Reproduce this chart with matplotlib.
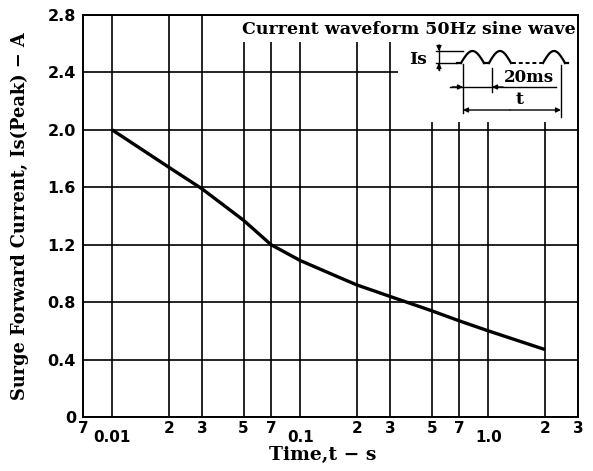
import numpy as np
import matplotlib
matplotlib.use("Agg")
import matplotlib.pyplot as plt
from matplotlib.patches import Rectangle
from matplotlib.lines import Line2D

# Surge forward current vs. time
time_s = [0.01, 0.02, 0.03, 0.05, 0.07, 0.1, 0.15, 0.2, 0.3, 0.5, 0.7, 1.0, 2.0]
current_a = [2.0, 1.74, 1.59, 1.37, 1.20, 1.09, 0.99, 0.92, 0.84, 0.74, 0.67, 0.60, 0.47]

major_x = [0.01, 0.1, 1.0]
major_x_labels = ["0.01", "0.1", "1.0"]
minor_x = [0.007, 0.02, 0.03, 0.05, 0.07, 0.2, 0.3, 0.5, 0.7, 2.0, 3.0]
minor_x_labels = ["7", "2", "3", "5", "7", "2", "3", "5", "7", "2", "3"]
y_ticks = [0, 0.4, 0.8, 1.2, 1.6, 2.0, 2.4, 2.8]
y_labels = ["0", "0.4", "0.8", "1.2", "1.6", "2.0", "2.4", "2.8"]

W, H = 593, 471
L, R, T, B = 83, 578, 15, 417

serif = ["DejaVu Serif"]
sans = ["DejaVu Sans"]

fig = plt.figure(figsize=(W / 100, H / 100), dpi=100)
ax = fig.add_axes([L / W, 1 - B / H, (R - L) / W, (B - T) / H])

ax.set_xscale("log")
ax.set_xlim(0.007, 3.0)
ax.set_ylim(0, 2.8)

ax.plot(time_s, current_a, color="black", lw=2.4, zorder=4, solid_capstyle="butt",
        solid_joinstyle="round")

ax.set_xticks(major_x)
ax.set_xticklabels(major_x_labels)
ax.set_xticks(minor_x, minor=True)
ax.set_xticklabels(minor_x_labels, minor=True)
ax.set_yticks(y_ticks)
ax.set_yticklabels(y_labels)

ax.tick_params(axis="x", which="major", length=0, pad=9, labelsize=11)
ax.tick_params(axis="x", which="minor", length=0, pad=3, labelsize=11)
ax.tick_params(axis="y", length=0, pad=5, labelsize=11.5)
for lab in ax.get_xticklabels(which="both") + ax.get_yticklabels():
    lab.set_fontfamily(sans)
    lab.set_fontweight("bold")

ax.grid(True, which="both", color="black", lw=1.2)
for sp in ax.spines.values():
    sp.set_linewidth(1.4)


def P(x, y):
    # pixel position -> axes fraction
    return ((x - L) / (R - L), (B - y) / (B - T))


# white areas behind the waveform note
for x0, y0, x1, y1 in [(240, 16, 577, 42), (398, 16, 577, 122)]:
    a = P(x0, y1)
    b = P(x1, y0)
    ax.add_patch(Rectangle(a, b[0] - a[0], b[1] - a[1], transform=ax.transAxes,
                           facecolor="white", edgecolor="none", zorder=2.2, clip_on=False))

ax.text(*P(576, 29), "Current waveform 50Hz sine wave", transform=ax.transAxes,
        ha="right", va="center", fontsize=12.5, fontweight="bold", family=serif, zorder=3)


def seg(x0, y0, x1, y1, lw=1.0):
    a = P(x0, y0)
    b = P(x1, y1)
    ax.add_line(Line2D([a[0], b[0]], [a[1], b[1]], transform=ax.transAxes,
                       color="black", lw=lw, zorder=3, clip_on=False))


def arrow(x0, y0, x1, y1):
    ax.annotate("", xy=P(x1, y1), xytext=P(x0, y0), xycoords="axes fraction",
                textcoords="axes fraction", zorder=3,
                arrowprops=dict(arrowstyle="-|>", lw=1.0, color="black",
                                mutation_scale=7, shrinkA=0, shrinkB=0))


# sine humps
base, peak = 63, 51
for hx0, hx1 in [(461, 484), (489, 511), (543, 565)]:
    xs = np.linspace(hx0, hx1, 30)
    ys = base - (base - peak) * np.sin(np.linspace(0, np.pi, 30))
    pts = [P(x, y) for x, y in zip(xs, ys)]
    ax.add_line(Line2D([p[0] for p in pts], [p[1] for p in pts], transform=ax.transAxes,
                       color="black", lw=1.6, zorder=3, clip_on=False))
seg(457, base, 461, base, 1.6)
seg(484, base, 489, base, 1.6)
seg(565, base, 568, base, 1.6)
a, b = P(512, base), P(542, base)
ax.add_line(Line2D([a[0], b[0]], [a[1], b[1]], transform=ax.transAxes, color="black",
                   lw=1.4, ls=(0, (2, 1.5)), zorder=3, clip_on=False))

# Is amplitude marker
seg(436, peak, 463, peak)
seg(436, base, 457, base)
seg(439, 45, 439, 70)
arrow(439, 45, 439, peak)
arrow(439, 70, 439, base)
ax.text(*P(427, 59), "Is", transform=ax.transAxes, ha="right", va="center",
        fontsize=12.5, fontweight="bold", family=serif, zorder=3)

# 20 ms marker
seg(463, 64, 463, 113)
seg(492, 68, 492, 92)
seg(450, 87, 556, 87)
arrow(452, 87, 463, 87)
arrow(503, 87, 492, 87)
ax.text(*P(529, 78), "20ms", transform=ax.transAxes, ha="center", va="center",
        fontsize=12, fontweight="bold", family=serif, zorder=3)

# t marker
seg(561, 65, 561, 117)
arrow(510, 110, 463, 110)
arrow(510, 110, 561, 110)
ax.text(*P(520, 100), "t", transform=ax.transAxes, ha="center", va="center",
        fontsize=12.5, fontweight="bold", family=serif, zorder=3)

fig.text(323 / W, 1 - 455 / H, "Time,t − s", ha="center", va="center",
         fontsize=13.5, fontweight="bold", family=serif)
fig.text(20 / W, 1 - 216 / H, "Surge Forward Current, Is(Peak) − A", ha="center",
         va="center", rotation=90, fontsize=12.8, fontweight="bold", family=serif)

fig.savefig("out.png", dpi=100)
